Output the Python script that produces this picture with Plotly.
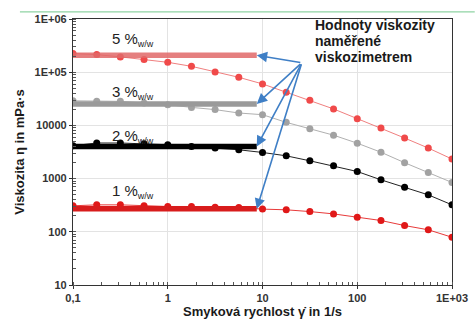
import numpy as np
import plotly.graph_objects as go

shear_rate = [0.1, 0.178, 0.316, 0.562, 1, 1.78, 3.16, 5.62, 10, 17.8, 31.6, 56.2, 100, 178, 316, 562, 1000]

visc_5 = [224000, 214000, 194000, 172600, 153500, 129000, 101000, 80200, 60200,
          41800, 29600, 20400, 13400, 8930, 5790, 3750, 2330]
visc_3 = [29000, 28300, 28300, 26400, 24500, 21800, 19800, 17100, 15900,
          11400, 8670, 6550, 4630, 3130, 1990, 1300, 845]
visc_2 = [4150, 4670, 4670, 4520, 4330, 4020, 3750, 3480, 3100,
          2680, 2160, 1740, 1360, 948, 691, 495, 321]
visc_1 = [308, 321, 321, 308, 299, 299, 290, 286, 267,
          259, 240, 217, 188, 163, 131, 109, 79]

# viscometer values (horizontal bands)
band_x = [0.1, 8.7]
band_5 = 208000
band_3 = 25300
band_2 = 4020
band_1 = 270

labels = ["5 %", "3 %", "2 %", "1 %"]
label_x = 0.245
label_y = [411000, 41300, 6120, 563]

ytick_vals = [10, 100, 1000, 10000, 100000, 1000000]
ytick_text = ["10", "100", "1000", "10000", "1E+05", "1E+06"]
xtick_vals = [0.1, 1, 10, 100, 1000]
xtick_text = ["0,1", "1", "10", "100", "1E+03"]

arrow_from = (26, 150000)
note_lines = ["Hodnoty viskozity", "naměřené", "viskozimetrem"]
note_x = 34
note_y = [780000, 390000, 195000]

series = [
    (visc_5, band_5, "#f04a4a", "#f07f7f", "rgba(225,105,105,0.85)"),
    (visc_3, band_3, "#a2a2a2", "#b0b0b0", "#9a9a9a"),
    (visc_2, band_2, "#000000", "#222222", "#000000"),
    (visc_1, band_1, "#e01818", "#e83a3a", "#d81c1c"),
]

fig = go.Figure()
for vals, band, mcol, lcol, bcol in series:
    fig.add_trace(go.Scatter(x=shear_rate, y=vals, mode="lines+markers",
                             line=dict(color=lcol, width=1),
                             marker=dict(color=mcol, size=7),
                             showlegend=False, hoverinfo="skip"))
for vals, band, mcol, lcol, bcol in series:
    fig.add_trace(go.Scatter(x=band_x, y=[band, band], mode="lines",
                             line=dict(color=bcol, width=5.5),
                             showlegend=False, hoverinfo="skip"))

font_tick = dict(family="Liberation Sans, Arial", size=11, color="#333333", weight="bold")

annotations = []
for lab, ly in zip(labels, label_y):
    annotations.append(dict(x=np.log10(label_x), y=np.log10(ly), xref="x", yref="y",
                            text=lab + "<sub><span style='font-size:9px'>w/w</span></sub>",
                            showarrow=False, xanchor="left", yanchor="middle",
                            font=dict(family="Liberation Sans, Arial", size=15, color="#222222")))

for band in [band_5, band_3, band_2, band_1]:
    annotations.append(dict(x=np.log10(band_x[1]), y=np.log10(band), xref="x", yref="y",
                            ax=np.log10(arrow_from[0]), ay=np.log10(arrow_from[1]),
                            axref="x", ayref="y", text="", showarrow=True,
                            arrowhead=2, arrowsize=1.3, arrowwidth=1.6,
                            arrowcolor="#3f7fc6", standoff=0))

for line, ny in zip(note_lines, note_y):
    annotations.append(dict(x=np.log10(note_x), y=np.log10(ny), xref="x", yref="y",
                            text="<b>" + line + "</b>", showarrow=False,
                            xanchor="left", yanchor="middle", align="left",
                            font=dict(family="Liberation Sans, Arial", size=14, color="#1a1a1a")))

fig.update_layout(
    width=475, height=320,
    margin=dict(l=73, r=23, t=19, b=35, autoexpand=False),
    paper_bgcolor="white", plot_bgcolor="white",
    annotations=annotations,
    shapes=[dict(type="line", xref="paper", yref="paper", x0=-0.14, x1=1.06,
                 y0=1.027, y1=1.027, line=dict(color="#8fd3a3", width=1.2))],
)

fig.update_xaxes(type="log", range=[-1, 3], automargin=False,
                 tickvals=xtick_vals, ticktext=xtick_text,
                 tickfont=font_tick, ticks="outside", ticklen=3, tickcolor="#333",
                 showline=True, linecolor="#333", linewidth=1.3, mirror=True,
                 showgrid=True, gridcolor="#e3e3e3", gridwidth=1,
                 minor=dict(ticks="inside", ticklen=3, tickcolor="#555", showgrid=False, dtick="D1"),
                 zeroline=False,
                 title=dict(text="<b>Smyková rychlost γ̇ in 1/s</b>",
                            font=dict(family="Liberation Sans, Arial", size=13, color="#1a1a1a"),
                            standoff=2))
fig.update_yaxes(type="log", range=[1, 6], automargin=False,
                 tickvals=ytick_vals, ticktext=ytick_text,
                 tickfont=font_tick, ticks="outside", ticklen=3, tickcolor="#333",
                 showline=True, linecolor="#333", linewidth=1.3, mirror=True,
                 showgrid=True, gridcolor="#e3e3e3", gridwidth=1,
                 minor=dict(ticks="inside", ticklen=3, tickcolor="#555", showgrid=False, dtick="D1"),
                 zeroline=False,
                 title=dict(text="<b>Viskozita η in mPa·s</b>",
                            font=dict(family="Liberation Sans, Arial", size=13, color="#1a1a1a"),
                            standoff=6))

fig.write_html("out.html")
